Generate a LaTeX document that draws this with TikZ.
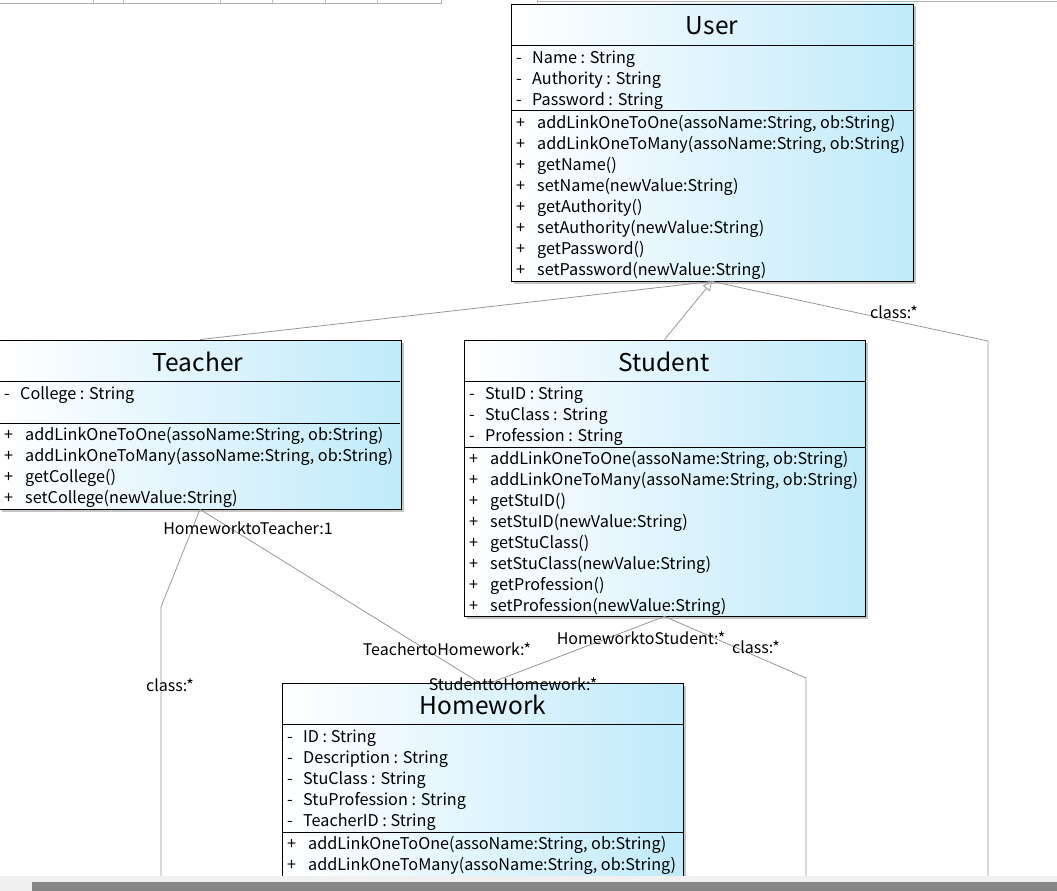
\documentclass[tikz,border=0pt]{standalone}
\usepackage{fontspec}
\setmainfont{Noto Sans CJK SC}
\usetikzlibrary{arrows.meta,shadows}

\definecolor{umlcyan}{RGB}{192,234,250}
\definecolor{linkgray}{RGB}{150,150,150}

\tikzset{
  classbox/.style={draw=black, line width=0.9pt, left color=white, right color=umlcyan,
    drop shadow={shadow xshift=2.5pt, shadow yshift=-2.5pt, fill=black!45, opacity=0.5},
    inner sep=0pt},
  classname/.style={font=\fontsize{24.5}{27}\selectfont, inner sep=0pt},
  row/.style={anchor=west, inner sep=0pt, font=\fontsize{16.2}{18}\selectfont},
  link/.style={draw=linkgray, line width=0.8pt},
  linklabel/.style={inner sep=0pt, font=\fontsize{16}{18}\selectfont},
  gen/.style={link, -{Triangle[length=9pt, width=9pt, fill=white]}}
}

\begin{document}
\begin{tikzpicture}[x=1pt, y=-1pt]
  \useasboundingbox (0,0) rectangle (1057,891);

  % toolbar remnant at the top
  \draw[black!30, line width=0.8pt] (0,3) -- (441,3) -- (441,0);
  \foreach \tx in {93,123,220,272,325,377} \draw[black!25] (\tx,0) -- (\tx,3);
  \draw[black!30, line width=0.8pt] (537,0) -- (537,4);
  \draw[black!30, line width=0.8pt] (537,1) -- (1057,1);

  % Klasse User
  \node[classbox, minimum width=402pt, minimum height=277pt] (user) at (712,142.5) {};
  \node[classname] (usertitle) at (712,26) {User};
  \draw (511,45) -- (913,45);
  \draw (511,110) -- (913,110);
  \node[row] (user-a1) at (516,59) {\makebox[16pt][l]{-}Name : String};
  \node[row] (user-a2) at (516,80) {\makebox[16pt][l]{-}Authority : String};
  \node[row] (user-a3) at (516,101) {\makebox[16pt][l]{-}Password : String};
  \node[row] (user-m1) at (516,124) {\makebox[21pt][l]{+}addLinkOneToOne(assoName:String, ob:String)};
  \node[row] (user-m2) at (516,145) {\makebox[21pt][l]{+}addLinkOneToMany(assoName:String, ob:String)};
  \node[row] (user-m3) at (516,166) {\makebox[21pt][l]{+}getName()};
  \node[row] (user-m4) at (516,187) {\makebox[21pt][l]{+}setName(newValue:String)};
  \node[row] (user-m5) at (516,208) {\makebox[21pt][l]{+}getAuthority()};
  \node[row] (user-m6) at (516,229) {\makebox[21pt][l]{+}setAuthority(newValue:String)};
  \node[row] (user-m7) at (516,250) {\makebox[21pt][l]{+}getPassword()};
  \node[row] (user-m8) at (516,271) {\makebox[21pt][l]{+}setPassword(newValue:String)};

  % Klasse Teacher
  \node[classbox, minimum width=402pt, minimum height=169pt] (teacher) at (200,424.5) {};
  \node[classname] (teachertitle) at (198,362) {Teacher};
  \draw (-1,381) -- (400,381);
  \draw (-1,423) -- (400,423);
  \node[row] (teacher-a1) at (4,395) {\makebox[16pt][l]{-}College : String};
  \node[row] (teacher-m1) at (4,436) {\makebox[21pt][l]{+}addLinkOneToOne(assoName:String, ob:String)};
  \node[row] (teacher-m2) at (4,457) {\makebox[21pt][l]{+}addLinkOneToMany(assoName:String, ob:String)};
  \node[row] (teacher-m3) at (4,478) {\makebox[21pt][l]{+}getCollege()};
  \node[row] (teacher-m4) at (4,499) {\makebox[21pt][l]{+}setCollege(newValue:String)};

  % Klasse Student
  \node[classbox, minimum width=401pt, minimum height=276pt] (student) at (664.5,478) {};
  \node[classname] (studenttitle) at (664,362) {Student};
  \draw (464,381) -- (865,381);
  \draw (464,447) -- (865,447);
  \node[row] (student-a1) at (469,395) {\makebox[16pt][l]{-}StuID : String};
  \node[row] (student-a2) at (469,416) {\makebox[16pt][l]{-}StuClass : String};
  \node[row] (student-a3) at (469,437) {\makebox[16pt][l]{-}Profession : String};
  \node[row] (student-m1) at (469,460) {\makebox[21pt][l]{+}addLinkOneToOne(assoName:String, ob:String)};
  \node[row] (student-m2) at (469,481) {\makebox[21pt][l]{+}addLinkOneToMany(assoName:String, ob:String)};
  \node[row] (student-m3) at (469,502) {\makebox[21pt][l]{+}getStuID()};
  \node[row] (student-m4) at (469,523) {\makebox[21pt][l]{+}setStuID(newValue:String)};
  \node[row] (student-m5) at (469,544) {\makebox[21pt][l]{+}getStuClass()};
  \node[row] (student-m6) at (469,565) {\makebox[21pt][l]{+}setStuClass(newValue:String)};
  \node[row] (student-m7) at (469,586) {\makebox[21pt][l]{+}getProfession()};
  \node[row] (student-m8) at (469,607) {\makebox[21pt][l]{+}setProfession(newValue:String)};

  % Klasse Homework
  \node[classbox, minimum width=401pt, minimum height=217pt] (homework) at (482.5,791.5) {};
  \node[classname] (homeworktitle) at (483,705) {Homework};
  \draw (282,724) -- (683,724);
  \draw (282,832) -- (683,832);
  \node[row] (homework-a1) at (287,738) {\makebox[16pt][l]{-}ID : String};
  \node[row] (homework-a2) at (287,759) {\makebox[16pt][l]{-}Description : String};
  \node[row] (homework-a3) at (287,780) {\makebox[16pt][l]{-}StuClass : String};
  \node[row] (homework-a4) at (287,801) {\makebox[16pt][l]{-}StuProfession : String};
  \node[row] (homework-a5) at (287,822) {\makebox[16pt][l]{-}TeacherID : String};
  \node[row] (homework-m1) at (287,845) {\makebox[21pt][l]{+}addLinkOneToOne(assoName:String, ob:String)};
  \node[row] (homework-m2) at (287,866) {\makebox[21pt][l]{+}addLinkOneToMany(assoName:String, ob:String)};

  % Knicke und freie Enden
  \coordinate (userclassbend) at (988,341);
  \coordinate (userclassend) at (988,891);
  \coordinate (teacherclassbend) at (161,607);
  \coordinate (teacherclassend) at (161,891);
  \coordinate (studentclassbend) at (806,678);
  \coordinate (studentclassend) at (806,891);
  \coordinate (hwteacher) at (480,683);
  \coordinate (hwstudent) at (490,683);

  % Linien und Pfeile
  \draw[link] (teacher.north) -- (user.south);
  \draw[gen] (student.north) -- (user.south);
  \draw[link] (user.south) -- (userclassbend) -- (userclassend);
  \draw[link] (teacher.south) -- (teacherclassbend) -- (teacherclassend);
  \draw[link] (teacher.south) -- (hwteacher);
  \draw[link] (student.south) -- (hwstudent);
  \draw[link] (student.south) -- (studentclassbend) -- (studentclassend);

  \node[linklabel] at (894,312) {class:*};
  \node[linklabel] at (248,528) {HomeworktoTeacher:1};
  \node[linklabel] at (447,649) {TeachertoHomework:*};
  \node[linklabel] at (170,685) {class:*};
  \node[linklabel] at (641,638) {HomeworktoStudent:*};
  \node[linklabel] at (756,647) {class:*};
  \node[linklabel] at (513,684) {StudenttoHomework:*};

  % Bildlaufleiste
  \fill[black!6] (0,876) rectangle (1057,891);
  \fill[black!48] (32,882) rectangle (1057,891);
\end{tikzpicture}
\end{document}
